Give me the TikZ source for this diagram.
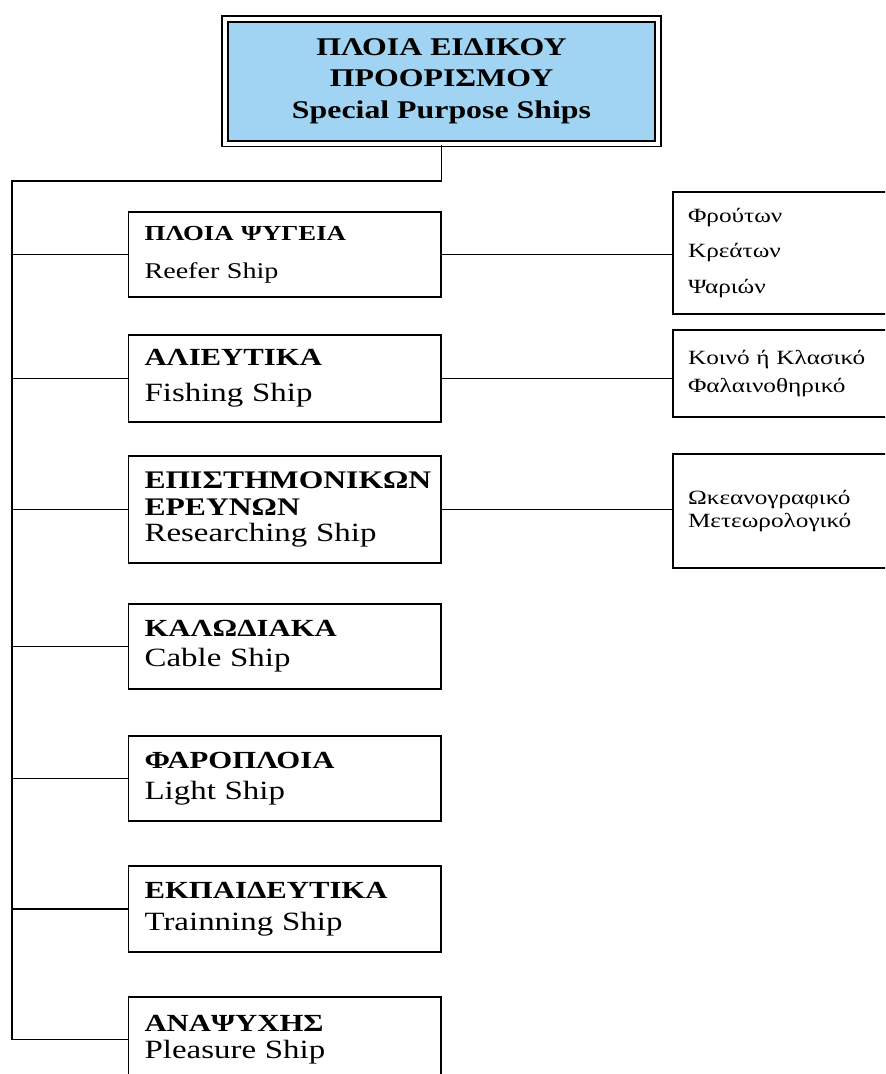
\documentclass[tikz,border=0pt]{standalone}
\usepackage{fontspec}
\setmainfont[FakeStretch=1.25]{Liberation Serif}
\definecolor{hdblue}{RGB}{160,212,242}

\begin{document}
\begin{tikzpicture}[x=0.02cm,y=-0.02cm,line width=1.05pt,
 hd/.style={draw,double,double distance=0.076cm,fill=hdblue,minimum width=8.67cm,minimum height=2.5cm,inner sep=0pt,align=center,font=\bfseries\fontsize{14.5}{18}\selectfont},
 sh/.style={draw,rectangle,minimum width=6.25cm,inner xsep=0.32cm,inner ysep=0pt,text width=5.61cm,align=left},
 sub/.style={draw,rectangle,minimum width=4.44cm,inner xsep=0.3cm,inner ysep=0pt,text width=3.84cm,align=left}]
\useasboundingbox (0,0) rectangle (885,1074);
\clip (0,0) rectangle (885,1074);
% head
\node[hd] (top) at (441.5,81.25) {ΠΛΟΙΑ ΕΙΔΙΚΟΥ\\ΠΡΟΟΡΙΣΜΟΥ\\Special Purpose Ships};
\coordinate (tr) at (12,181);
% ship types
\node[sh,minimum height=1.7cm,font=\fontsize{12.8}{21.5}\selectfont] (b1) at (284.75,254.5) {{\bfseries\fontsize{12.2}{14}\selectfont ΠΛΟΙΑ ΨΥΓΕΙΑ}\\Reefer Ship};
\node[sh,minimum height=1.74cm,font=\fontsize{15}{20.4}\selectfont] (b2) at (284.75,378.5) {{\bfseries\fontsize{14}{17}\selectfont ΑΛΙΕΥΤΙΚΑ}\\Fishing Ship};
\node[sh,minimum height=2.14cm,font=\fontsize{15}{15.2}\selectfont] (b3) at (284.75,509.5) {{\bfseries\fontsize{14.4}{15}\selectfont ΕΠΙΣΤΗΜΟΝΙΚΩΝ\\ΕΡΕΥΝΩΝ}\\Researching Ship};
\node[sh,minimum height=1.7cm,font=\fontsize{15}{17}\selectfont] (b4) at (284.75,646.5) {{\bfseries\fontsize{14}{17}\selectfont ΚΑΛΩΔΙΑΚΑ}\\Cable Ship};
\node[sh,minimum height=1.7cm,font=\fontsize{15}{17.6}\selectfont] (b5) at (284.75,778.5) {{\bfseries\fontsize{14}{17}\selectfont ΦΑΡΟΠΛΟΙΑ}\\Light Ship};
\node[sh,minimum height=1.72cm,font=\fontsize{15}{18}\selectfont] (b6) at (284.75,909) {{\bfseries\fontsize{14}{17}\selectfont ΕΚΠΑΙΔΕΥΤΙΚΑ}\\Trainning Ship};
\node[sh,minimum height=1.7cm,font=\fontsize{15}{15.3}\selectfont] (b7) at (284.75,1039.5) {{\bfseries\fontsize{14}{17}\selectfont ΑΝΑΨΥΧΗΣ}\\Pleasure Ship};
% sub kinds
\node[sub,minimum height=2.44cm,font=\fontsize{11.5}{20.4}\selectfont] (s1) at (784,253) {Φρούτων\\Κρεάτων\\Ψαριών};
\node[sub,minimum height=1.74cm,font=\fontsize{11.5}{16.4}\selectfont] (s2) at (784,373.5) {Κοινό ή Κλασικό\\Φαλαινοθηρικό};
\node[sub,minimum height=2.28cm,font=\fontsize{11.5}{13}\selectfont] (s3) at (784,511) {Ωκεανογραφικό\\Μετεωρολογικό};
% links
\draw (top.south) |- (tr) |- (b7.west);
\foreach \i in {1,...,6} \draw (b\i.west) -- (b\i.west -| tr);
\draw (b1.east) -- (b1.east -| s1.west);
\draw (b2.east) -- (b2.east -| s2.west);
\draw (b3.east) -- (b3.east -| s3.west);
\end{tikzpicture}
\end{document}
